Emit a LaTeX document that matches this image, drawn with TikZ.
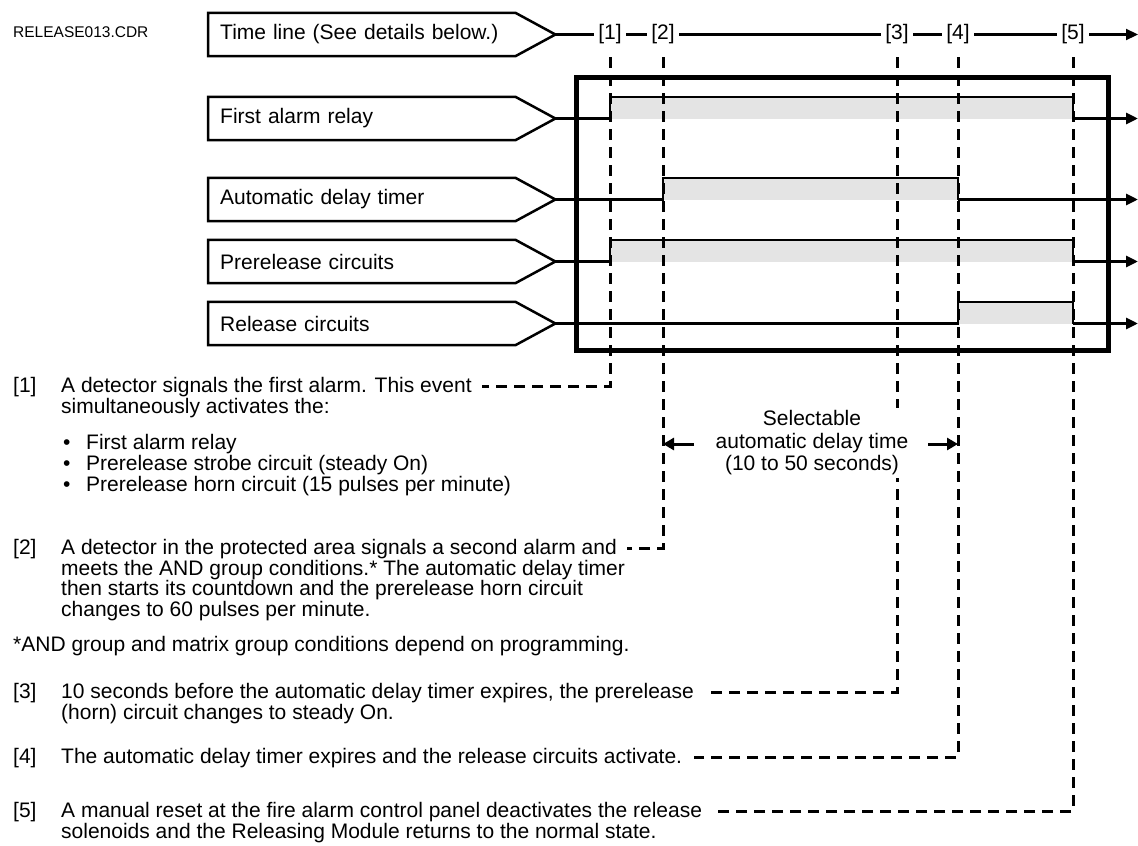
\documentclass[tikz,border=0pt]{standalone}
\usepackage{fontspec}
\setmainfont{Liberation Sans}
\usetikzlibrary{arrows.meta,calc}
\definecolor{hifillc}{HTML}{E4E4E4}
\newcommand\sigbox[3]{%
  \node[lbl] (#1) at (208,#2) {#3};
  \draw[boxln] (#1.north west) -- (#1.north east) -- ($(#1.east)+(40,0)$) coordinate (#1tip) -- (#1.south east) -- (#1.south west) -- cycle;}
\begin{document}
\begin{tikzpicture}[x=1pt,y=-1pt,
  every node/.style={inner sep=0pt},
  ft/.style={font=\fontsize{21}{24}\selectfont},
  lbl/.style={ft, anchor=west, minimum height=43pt, text width=283pt, inner xsep=12pt, align=left},
  boxln/.style={line width=2.5pt, line join=miter},
  sig/.style={line width=2.2pt},
  tail/.style={line width=3pt, -{Triangle[length=12pt,width=11pt]}},
  dsh/.style={line width=3pt, dash pattern=on 11pt off 7pt},
  tl/.style={ft, fill=white, inner xsep=4pt, inner ysep=2pt},
  tx/.style={ft, anchor=base west},
  arw/.style={line width=3pt, -{Triangle[length=11pt,width=12pt]}}]
\path[use as bounding box] (0,0) rectangle (1138,846);

\node[font=\fontsize{15.5}{18}\selectfont, anchor=west] (cdr) at (13,32) {RELEASE013.CDR};

\sigbox{t0}{34.5}{Time line (See details below.)}
\sigbox{r1}{118.5}{First alarm relay}
\sigbox{r2}{199.5}{Automatic delay timer}
\sigbox{r3}{261.5}{Prerelease circuits}
\sigbox{r4}{323.5}{Release circuits}

\coordinate (e1) at (610,57);
\coordinate (e2) at (663,57);
\coordinate (e3) at (897,57);
\coordinate (e4) at (958,57);
\coordinate (e5) at (1073,57);
\coordinate (xend) at (1138,0);

% active (high) areas
\fill[hifillc] (r1.north -| e1) rectangle (r1tip -| e5);
\fill[hifillc] (r2.north -| e2) rectangle (r2tip -| e4);
\fill[hifillc] (r3.north -| e1) rectangle (r3tip -| e5);
\fill[hifillc] (r4.north -| e4) rectangle (r4tip -| e5);

% frame
\draw[line width=5pt] (576,77) rectangle (1108,350);

% signals
\draw[sig] (r1tip) -- (r1tip -| e1) -- (r1.north -| e1) -- (r1.north -| e5) -- (r1tip -| e5);
\draw[tail] (r1tip -| e5) -- (r1tip -| xend);
\draw[sig] (r2tip) -- (r2tip -| e2) -- (r2.north -| e2) -- (r2.north -| e4) -- (r2tip -| e4);
\draw[tail] (r2tip -| e4) -- (r2tip -| xend);
\draw[sig] (r3tip) -- (r3tip -| e1) -- (r3.north -| e1) -- (r3.north -| e5) -- (r3tip -| e5);
\draw[tail] (r3tip -| e5) -- (r3tip -| xend);
\draw[sig] (r4tip) -- (r4tip -| e4) -- (r4.north -| e4) -- (r4.north -| e5) -- (r4tip -| e5);
\draw[tail] (r4tip -| e5) -- (r4tip -| xend);

% time line
\draw[tail, line width=2.2pt] (t0tip) -- (t0tip -| xend);
\node[tl] (l1) at (t0tip -| e1) {[1]};
\node[tl] (l2) at (t0tip -| e2) {[2]};
\node[tl] (l3) at (t0tip -| e3) {[3]};
\node[tl] (l4) at (t0tip -| e4) {[4]};
\node[tl] (l5) at (t0tip -| e5) {[5]};

% explanations
\node[tx] (n1) at (13,392.5) {[1]};
\node[tx] (p1a) at (61,392.5) {A detector signals the first alarm. This event};
\node[tx] (p1b) at (61,413) {simultaneously activates the:};
\node[tx] (b1) at (63,449.5) {•};
\node[tx] (b1t) at (86,449.5) {First alarm relay};
\node[tx] (b2) at (63,470.5) {•};
\node[tx] (b2t) at (86,470.5) {Prerelease strobe circuit (steady On)};
\node[tx] (b3) at (63,491.5) {•};
\node[tx] (b3t) at (86,491.5) {Prerelease horn circuit (15 pulses per minute)};

\node[tx] (n2) at (13,554.5) {[2]};
\node[tx] (p2a) at (61,554.5) {A detector in the protected area signals a second alarm and};
\node[tx] (p2b) at (61,575) {meets the AND group conditions.* The automatic delay timer};
\node[tx] (p2c) at (61,595.5) {then starts its countdown and the prerelease horn circuit};
\node[tx] (p2d) at (61,616) {changes to 60 pulses per minute.};

\node[tx] (fn) at (13,651.5) {*AND group and matrix group conditions depend on programming.};

\node[tx] (n3) at (13,698.5) {[3]};
\node[tx] (p3a) at (61,698.5) {10 seconds before the automatic delay timer expires, the prerelease};
\node[tx] (p3b) at (61,719) {(horn) circuit changes to steady On.};

\node[tx] (n4) at (13,763.5) {[4]};
\node[tx] (p4a) at (61,763.5) {The automatic delay timer expires and the release circuits activate.};

\node[tx] (n5) at (13,817.5) {[5]};
\node[tx] (p5a) at (61,817.5) {A manual reset at the fire alarm control panel deactivates the release};
\node[tx] (p5b) at (61,838) {solenoids and the Releasing Module returns to the normal state.};

% leader lines
\coordinate (y1) at (0,386);
\coordinate (y2) at (0,548);
\coordinate (y3) at (0,692);
\coordinate (y4) at (0,757);
\coordinate (y5) at (0,811);
\draw[dsh] (e1) -- (e1 |- y1) -- ($(p1a.east |- y1)+(10,0)$);
\draw[dsh] (e2) -- (e2 |- y2) -- ($(p2a.east |- y2)+(10,0)$);
\draw[dsh] (e3) -- (e3 |- y3) -- ($(p3a.east |- y3)+(12,0)$);
\draw[dsh] (e4) -- (e4 |- y4) -- ($(p4a.east |- y4)+(12,0)$);
\draw[dsh] (e5) -- (e5 |- y5) -- ($(p5a.east |- y5)+(12,0)$);

% selectable delay
\node[fill=white, align=center, font=\fontsize{21}{22.5}\selectfont, inner sep=3pt] (sel) at (812,443) {Selectable\\automatic delay time\\(10 to 50 seconds)};
\coordinate (al) at (694,444);
\coordinate (ar) at (928,444);
\draw[arw] (al) -- (al -| e2);
\draw[arw] (ar) -- (ar -| e4);
\end{tikzpicture}
\end{document}
